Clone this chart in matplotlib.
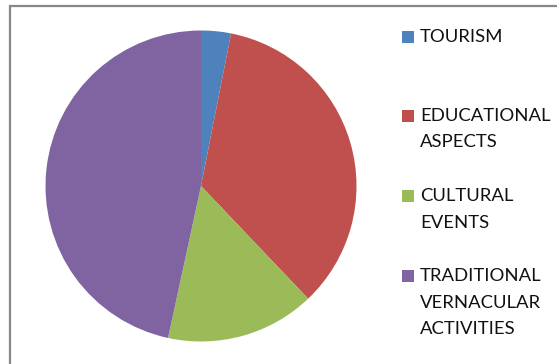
import matplotlib
matplotlib.use("Agg")
import matplotlib.pyplot as plt
from matplotlib.patches import Rectangle

labels = ["TOURISM", "EDUCATIONAL\nASPECTS", "CULTURAL\nEVENTS", "TRADITIONAL\nVERNACULAR\nACTIVITIES"]
values = [3.1, 34.8, 15.5, 46.6]
colors = ["#4F81BD", "#C0504D", "#9BBB59", "#8064A2"]

W, H = 557, 364
fig = plt.figure(figsize=(W / 100, H / 100), dpi=100)

# outer chart border
fig.patches.append(Rectangle((10 / W, -0.1), 1.2, (H - 6) / H + 0.1, transform=fig.transFigure,
                             fill=False, edgecolor="#878787", linewidth=1.6))

# pie: centre (201, 186), radius 155.5 px
cx, cy, r = 201, 186, 155.5
ax = fig.add_axes([(cx - r) / W, (H - cy - r) / H, 2 * r / W, 2 * r / H])
ax.pie(values, colors=colors, startangle=90, counterclock=False, radius=1,
       wedgeprops=dict(linewidth=0))
ax.set_xlim(-1, 1)
ax.set_ylim(-1, 1)
ax.set_aspect("equal")
ax.axis("off")

# legend, drawn by hand to follow the original spacing
first_line_y = [37, 116, 196, 276]
line_step = 26.5
for lab, col, y0 in zip(labels, colors, first_line_y):
    fig.patches.append(Rectangle((402 / W, 1 - (y0 + 6) / H), 12 / W, 12 / H,
                                 transform=fig.transFigure, facecolor=col, edgecolor="none"))
    for i, line in enumerate(lab.split("\n")):
        fig.text(420 / W, 1 - (y0 + i * line_step) / H, line, fontsize=13.3,
                 family="Lato", color="#111111", va="center", ha="left")

fig.savefig("out.png", dpi=100)
